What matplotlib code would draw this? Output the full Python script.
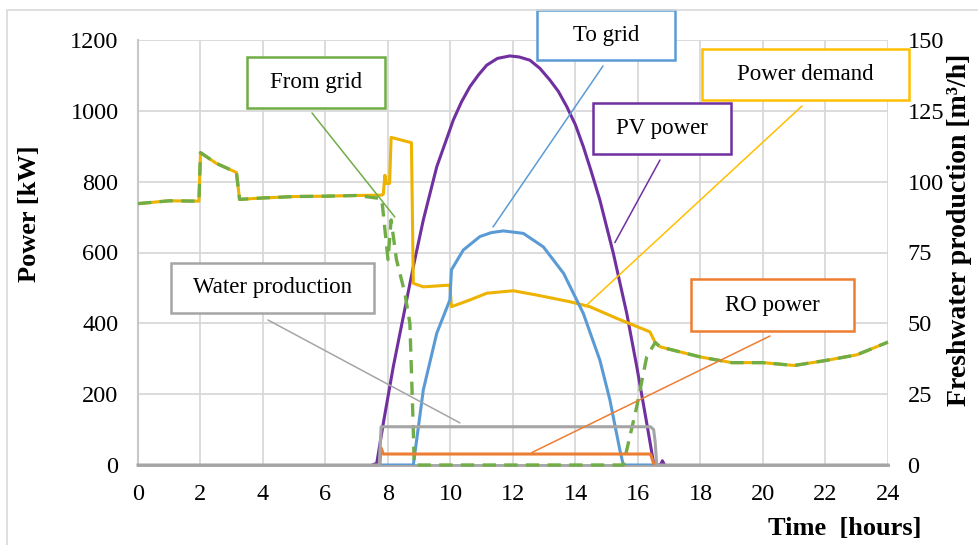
import matplotlib
matplotlib.use("Agg")
import matplotlib.pyplot as plt
from matplotlib.patches import Rectangle

plt.rcParams['font.family'] = ['Liberation Serif', 'DejaVu Serif']

# ---- data -------------------------------------------------------------
# Power demand [kW]
t_demand = [0, 1, 1.95, 2.0, 2.5, 3.15, 3.25, 4, 5, 6, 7, 7.8, 7.85, 7.9, 7.95,
            8.05, 8.1, 8.75, 8.81, 9.13, 9.98, 10.03, 10.62, 11.16, 12.01, 12.75,
            13.82, 14.46, 15.32, 16.38, 16.55, 16.7, 17, 18, 19, 20, 21, 22, 23, 24]
p_demand = [738, 746, 745, 882, 852, 826, 750, 754, 758, 759, 761, 762, 765, 818,
            795, 795, 925, 910, 513, 503, 508, 447, 466, 485, 492, 480,
            461, 447, 414, 376, 346, 334, 327, 305, 289, 289, 281, 295, 311, 347]

# Power drawn from the grid [kW]
t_from = [0, 1, 1.95, 2.0, 2.5, 3.15, 3.25, 4, 5, 6, 7, 7.8, 8.0, 8.1, 8.27,
          8.54, 8.7, 8.8, 8.84, 15.53, 15.96, 16.28, 16.55, 16.7, 17, 18, 19, 20,
          21, 22, 23, 24]
p_from = [738, 746, 745, 882, 852, 826, 750, 754, 758, 759, 761, 752, 580, 692,
          580, 485, 400, 127, 0, 0, 165, 306, 346, 334, 327, 305, 289, 289,
          281, 295, 311, 347]

# PV power [kW]
t_pv = [7.5, 7.64, 7.85, 8.17, 8.49, 8.81, 9.13, 9.56, 10.09, 10.35, 10.62, 10.9,
        11.16, 11.5, 11.9, 12.2, 12.54, 12.86, 13.18, 13.45, 13.72, 14.0, 14.25,
        14.5, 14.78, 15.21, 15.64, 15.96, 16.28, 16.5, 16.6, 16.72, 16.78, 16.85]
p_pv = [0, 5, 118, 278, 419, 560, 692, 842, 974, 1025, 1068, 1102,
        1129, 1148, 1155, 1152, 1143, 1120, 1087, 1055, 1012, 960, 899,
        830, 748, 598, 428, 278, 118, 5, 0, 0, 12, 0]

# Power exported to the grid [kW]
t_to = [7.8, 8.81, 9.13, 9.56, 9.98, 10.03, 10.41, 10.94, 11.3, 11.69, 12.33,
        12.97, 13.62, 14.25, 14.78, 15.1, 15.42, 15.53, 16.5]
p_to = [0, 0, 212, 372, 466, 551, 607, 645, 656, 661, 654, 616, 541, 428, 296,
        184, 42, 0, 0]

# RO unit power [kW]
t_ro = [7.74, 7.78, 7.85, 16.4, 16.5, 16.6]
p_ro = [0, 48, 31, 31, 5, 0]

# Freshwater production [m3/h]
t_water = [0, 7.72, 7.78, 16.4, 16.5, 16.55, 16.6, 24]
q_water = [0, 0, 13.5, 13.5, 12.5, 8, 0, 0]

x_ticks = list(range(0, 25, 2))
y_ticks = list(range(0, 1201, 200))
y2_ticks = list(range(0, 151, 25))

# ---- colours ----------------------------------------------------------
c_pv = '#7030A0'
c_to = '#5B9BD5'
c_dem = '#EEB200'
c_dem_box = '#FFC000'
c_from = '#70AD47'
c_ro = '#ED7D31'
c_water = '#A5A5A5'

# ---- figure -----------------------------------------------------------
W, H = 979, 545
fig = plt.figure(figsize=(W / 100, H / 100), dpi=100)
fig.patches.append(Rectangle((7 / W, -0.2), 1.2, 1.2 - 10 / H,
                             transform=fig.transFigure, fill=False,
                             edgecolor='#D9D9D9', lw=1.2))

x0, x1, ytop, ybot = 138, 888, 40, 465
ax = fig.add_axes([x0 / W, 1 - ybot / H, (x1 - x0) / W, (ybot - ytop) / H])
ax2 = ax.twinx()

ax.plot(t_pv, p_pv, color=c_pv, lw=2.2, zorder=3)
ax.plot(t_demand, p_demand, color=c_dem, lw=2.2, zorder=4)
ax.plot(t_to, p_to, color=c_to, lw=2.2, zorder=5)
ax.plot(t_from, p_from, color=c_from, lw=2.4, ls=(0, (4, 2.5)), zorder=6,
        clip_on=False)
ax.plot(t_ro, p_ro, color=c_ro, lw=2.2, zorder=6)
ax2.plot(t_water, q_water, color=c_water, lw=2.2, zorder=3, clip_on=False)

ax.set_xlim(0, 24)
ax.set_ylim(0, 1200)
ax2.set_ylim(0, 150)
ax.set_xticks(x_ticks)
ax.set_yticks(y_ticks)
ax2.set_yticks(y2_ticks)
ax.grid(True, color='#D9D9D9', lw=1.3, zorder=0)
ax.set_axisbelow(True)

for a in (ax, ax2):
    for s in ('top', 'right', 'left', 'bottom'):
        a.spines[s].set_visible(False)
ax.spines['left'].set_visible(True)
ax.spines['left'].set_color('#C8C8C8')
ax.spines['left'].set_linewidth(1.5)
ax.spines['bottom'].set_visible(True)
ax.spines['bottom'].set_color('#A6A6A6')
ax.spines['bottom'].set_linewidth(2.0)
ax.spines['bottom'].set_zorder(2)

ax.tick_params(axis='both', length=0, labelsize=17.5, colors='black')
ax.tick_params(axis='y', pad=14)
ax.tick_params(axis='x', pad=14)
ax2.tick_params(axis='y', length=0, labelsize=17.5, pad=14)

fig.text(30 / W, 1 - 214 / H, 'Power [kW]', rotation=90, ha='center',
         va='center', fontsize=19, fontweight='bold')
fig.text(960 / W, 1 - 230 / H, 'Freshwater production [m³/h]', rotation=90,
         ha='center', va='center', fontsize=20, fontweight='bold')
fig.text(845 / W, 1 - 528 / H, 'Time  [hours]', ha='center', va='center',
         fontsize=19, fontweight='bold')

# ---- callout boxes ----------------------------------------------------
def to_axes(px, py):
    return (px - x0) / (x1 - x0), (ybot - py) / (ybot - ytop)

callouts = [
    # label, colour, box (left, top, right, bottom px), leader start px, target (h, kW)
    ('From grid', c_from, (247, 57, 385, 108), (312, 113), (8.22, 700)),
    ('To grid', c_to, (537, 10, 675, 60), (603, 66), (11.36, 672)),
    ('Power demand', c_dem_box, (702, 49, 909, 100), (802, 106), (14.3, 447)),
    ('PV power', c_pv, (593, 103, 731, 154), (660, 160), (15.26, 628)),
    ('Water production', c_water, (171, 263, 374, 313), (268, 320), (10.3, 119)),
    ('RO power', c_ro, (691, 279, 854, 331), (770, 336), (12.6, 35)),
]

for label, col, (l, t, r, b), start, target in callouts:
    ax0, ay0 = to_axes(l, b)
    ax1_, ay1 = to_axes(r, t)
    ax2.add_patch(Rectangle((ax0, ay0), ax1_ - ax0, ay1 - ay0,
                            transform=ax2.transAxes, facecolor='white',
                            edgecolor=col, lw=1.8, zorder=10, clip_on=False))
    ax2.text((ax0 + ax1_) / 2, (ay0 + ay1) / 2, label, transform=ax2.transAxes,
             ha='center', va='center', fontsize=16.5, zorder=11, clip_on=False)
    ax2.annotate('', xy=target, xycoords=ax.transData,
                 xytext=to_axes(*start), textcoords=ax2.transAxes,
                 arrowprops=dict(arrowstyle='-', color=col, lw=1.1,
                                 shrinkA=0, shrinkB=0), zorder=9,
                 annotation_clip=False)

fig.savefig('out.png', dpi=100)
